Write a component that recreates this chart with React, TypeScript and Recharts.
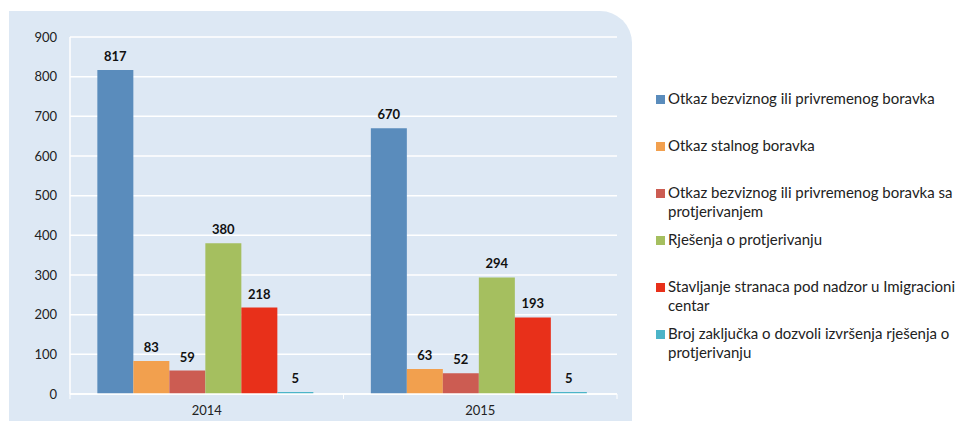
import { BarChart, Bar, XAxis, YAxis, CartesianGrid, LabelList } from "recharts";

const years = ["2014", "2015"];
const seriesNames = [
	"Otkaz bezviznog ili privremenog boravka",
	"Otkaz stalnog boravka",
	"Otkaz bezviznog ili privremenog boravka sa protjerivanjem",
	"Rješenja o protjerivanju",
	"Stavljanje stranaca pod nadzor u Imigracioni centar",
	"Broj zaključka o dozvoli izvršenja rješenja o protjerivanju",
];
const seriesValues = [
	[817, 670],
	[83, 63],
	[59, 52],
	[380, 294],
	[218, 193],
	[5, 5],
];
const yTicks = [0, 100, 200, 300, 400, 500, 600, 700, 800, 900];

const colors = ["#5a8cbc", "#f2a04e", "#cc5c52", "#a5bf5f", "#e8301a", "#4bb4c8"];
const font = "Lato, 'Open Sans', sans-serif";

const data = years.map((year, i) => {
	const row: Record<string, string | number> = { year };
	seriesNames.forEach((_, s) => {
		row["s" + s] = seriesValues[s][i];
	});
	return row;
});

function YearTick(props: any) {
	const { x, y, payload } = props;
	const half = payload.offset || 0;
	return (
		<g>
			<line x1={x - half} x2={x - half} y1={y - 12} y2={y - 7} stroke="#ffffff" />
			<line x1={x + half} x2={x + half} y1={y - 12} y2={y - 7} stroke="#ffffff" />
			<text x={x} y={y} dy="0.71em" textAnchor="middle" fill="#222" fontSize={13} fontFamily={font}>
				{payload.value}
			</text>
		</g>
	);
}

function LegendBox() {
	return (
		<div
			style={{
				position: "absolute",
				left: 656,
				top: 89,
				width: 312,
				fontFamily: font,
				fontSize: 15,
				color: "#222",
				lineHeight: "19px",
			}}
		>
			{seriesNames.map((name, i) => (
				<div key={name} style={{ height: 47, display: "flex", alignItems: "flex-start" }}>
					<span
						style={{
							display: "inline-block",
							width: 9,
							height: 9,
							background: colors[i],
							marginTop: 6,
							marginRight: 3,
							flex: "none",
						}}
					/>
					<span>{name}</span>
				</div>
			))}
		</div>
	);
}

export default function App() {
	return (
		<div style={{ position: "absolute", left: 0, top: 0, width: 968, height: 421, background: "#fff" }}>
			<div
				style={{
					position: "absolute",
					left: 9,
					top: 11,
					width: 623,
					height: 410,
					background: "#dde8f4",
					borderTopRightRadius: 32,
				}}
			/>
			<BarChart
				width={968}
				height={421}
				data={data}
				margin={{ top: 37, right: 351, bottom: 0, left: 10 }}
				barCategoryGap="10%"
				barGap={0}
				style={{ position: "absolute", left: 0, top: 0 }}
			>
				<CartesianGrid vertical={false} stroke="#ffffff" strokeWidth={1.5} />
				<XAxis
					dataKey="year"
					height={27}
					axisLine={{ stroke: "#ffffff", strokeWidth: 1.5 }}
					tickLine={false}
					tick={<YearTick />}
					tickMargin={6}
				/>
				<YAxis
					width={60}
					domain={[0, 900]}
					ticks={yTicks}
					axisLine={{ stroke: "#ffffff", strokeWidth: 1.5 }}
					tickLine={false}
					tickMargin={7}
					tick={{ fill: "#222", fontSize: 13, fontFamily: font }}
				/>
				{seriesNames.map((name, i) => (
					<Bar key={name} dataKey={"s" + i} name={name} fill={colors[i]} isAnimationActive={false}>
						<LabelList
							dataKey={"s" + i}
							position="top"
							offset={9}
							fill="#111"
							fontSize={13}
							fontWeight="bold"
							fontFamily={font}
						/>
					</Bar>
				))}
			</BarChart>
			<LegendBox />
		</div>
	);
}
